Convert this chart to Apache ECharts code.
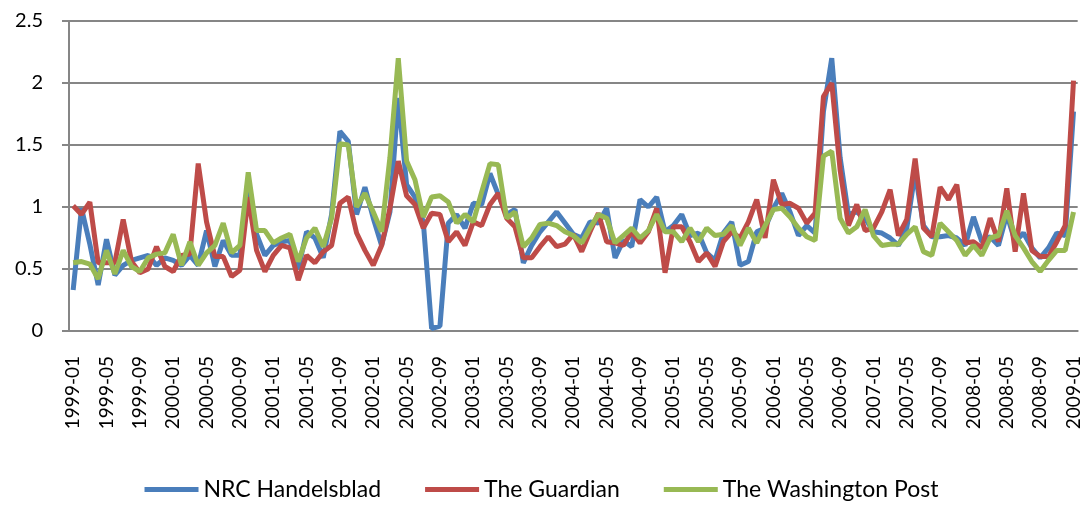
<!DOCTYPE html>
<html>
<head>
<meta charset="utf-8">
<script src="https://cdn.jsdelivr.net/npm/echarts@6/dist/echarts.min.js"></script>
<style>
  html, body { margin: 0; padding: 0; background: #fff; }
  #chart { width: 1083px; height: 506px; }
</style>
</head>
<body>
<div id="chart"></div>
<script>
// monthly categories 1999-01 .. 2009-01
const months = [];
for (let y = 1999; y <= 2009; y++) {
    for (let m = 1; m <= 12; m++) {
        if (y === 2009 && m > 1) break;
        months.push(y + '-' + (m < 10 ? '0' + m : m));
    }
}

const nrc = [
    0.33, 0.99, 0.70, 0.37, 0.74, 0.45, 0.53, 0.57, 0.59, 0.61,
    0.53, 0.59, 0.57, 0.53, 0.61, 0.53, 0.81, 0.52, 0.73, 0.61,
    0.61, 1.23, 0.78, 0.61, 0.69, 0.72, 0.73, 0.50, 0.80, 0.75,
    0.59, 0.94, 1.61, 1.53, 0.94, 1.16, 0.91, 0.69, 0.96, 1.88,
    1.18, 1.08, 0.88, 0.02, 0.04, 0.87, 0.94, 0.83, 1.03, 1.02,
    1.27, 1.10, 0.94, 0.98, 0.55, 0.69, 0.80, 0.88, 0.96, 0.87,
    0.78, 0.75, 0.88, 0.87, 0.99, 0.59, 0.73, 0.68, 1.06, 1.00,
    1.08, 0.80, 0.85, 0.94, 0.77, 0.79, 0.63, 0.57, 0.79, 0.88,
    0.53, 0.56, 0.80, 0.83, 0.99, 1.11, 0.96, 0.77, 0.85, 0.79,
    1.77, 2.20, 1.40, 0.94, 0.96, 0.91, 0.80, 0.79, 0.75, 0.69,
    0.83, 1.28, 0.85, 0.76, 0.76, 0.77, 0.75, 0.69, 0.92, 0.72,
    0.76, 0.69, 0.94, 0.72, 0.79, 0.67, 0.59, 0.67, 0.79, 0.77,
    1.77
];

const guardian = [
    1.01, 0.94, 1.04, 0.55, 0.55, 0.55, 0.90, 0.56, 0.47, 0.50,
    0.68, 0.52, 0.48, 0.61, 0.62, 1.35, 0.88, 0.60, 0.60, 0.44,
    0.49, 1.08, 0.65, 0.48, 0.61, 0.69, 0.67, 0.41, 0.61, 0.55,
    0.64, 0.69, 1.03, 1.08, 0.79, 0.65, 0.53, 0.69, 0.99, 1.37,
    1.09, 1.02, 0.83, 0.95, 0.94, 0.72, 0.80, 0.69, 0.88, 0.85,
    1.02, 1.11, 0.91, 0.84, 0.59, 0.59, 0.68, 0.76, 0.68, 0.70,
    0.78, 0.64, 0.80, 0.95, 0.72, 0.71, 0.69, 0.80, 0.71, 0.80,
    0.99, 0.47, 0.84, 0.84, 0.72, 0.56, 0.63, 0.52, 0.72, 0.80,
    0.75, 0.88, 1.06, 0.75, 1.22, 1.02, 1.03, 0.99, 0.87, 0.95,
    1.89, 2.00, 1.30, 0.85, 1.02, 0.81, 0.83, 0.96, 1.14, 0.77,
    0.90, 1.39, 0.83, 0.76, 1.16, 1.06, 1.18, 0.71, 0.72, 0.67,
    0.91, 0.72, 1.15, 0.64, 1.11, 0.65, 0.60, 0.60, 0.72, 0.85,
    2.02
];

const wapo = [
    0.55, 0.56, 0.54, 0.42, 0.65, 0.46, 0.65, 0.52, 0.48, 0.59,
    0.62, 0.63, 0.78, 0.53, 0.72, 0.53, 0.63, 0.69, 0.87, 0.63,
    0.69, 1.28, 0.81, 0.81, 0.71, 0.75, 0.78, 0.56, 0.75, 0.83,
    0.68, 0.91, 1.51, 1.50, 1.00, 1.11, 0.96, 0.80, 1.40, 2.20,
    1.37, 1.22, 0.92, 1.08, 1.09, 1.04, 0.87, 0.94, 0.88, 1.12,
    1.35, 1.34, 0.91, 0.96, 0.68, 0.75, 0.86, 0.87, 0.85, 0.80,
    0.77, 0.71, 0.83, 0.94, 0.91, 0.71, 0.77, 0.83, 0.75, 0.81,
    0.94, 0.80, 0.80, 0.72, 0.83, 0.72, 0.83, 0.77, 0.78, 0.85,
    0.69, 0.83, 0.71, 0.85, 0.98, 0.99, 0.92, 0.83, 0.76, 0.73,
    1.41, 1.45, 0.91, 0.79, 0.84, 0.98, 0.77, 0.69, 0.70, 0.70,
    0.78, 0.84, 0.64, 0.61, 0.87, 0.80, 0.73, 0.61, 0.69, 0.61,
    0.75, 0.77, 0.97, 0.77, 0.67, 0.56, 0.48, 0.57, 0.65, 0.65,
    0.96
];

const seriesNames = ['NRC Handelsblad', 'The Guardian', 'The Washington Post'];
const colors = ['#4A7EBB', '#BE4B48', '#98B954'];

const chart = echarts.init(document.getElementById('chart'));
const font = 'Lato, "Open Sans", sans-serif';

const option = {
    color: colors,
    animation: false,
    textStyle: { fontFamily: font },
    legend: {
        bottom: 0,
        left: 'center',
        icon: 'rect',
        itemWidth: 54,
        itemHeight: 5,
        itemGap: 44,
        textStyle: { fontSize: 23, color: '#000', fontFamily: font },
        data: seriesNames
    },
    grid: {
        left: 69,
        right: 3,
        top: 21,
        bottom: 175
    },
    xAxis: {
        type: 'category',
        boundaryGap: true,
        data: months,
        axisLine: { lineStyle: { color: '#868686', width: 2 } },
        axisTick: { interval: 0, length: 6, lineStyle: { color: '#868686' } },
        axisLabel: {
            interval: 3,
            rotate: 90,
            margin: 25,
            fontSize: 19,
            color: '#000',
            fontFamily: font
        }
    },
    yAxis: {
        type: 'value',
        min: 0,
        max: 2.5,
        interval: 0.5,
        axisLine: { show: true, lineStyle: { color: '#868686', width: 2 } },
        axisTick: { show: true, length: 7, lineStyle: { color: '#868686', width: 2 } },
        splitLine: { lineStyle: { color: '#868686', width: 2 } },
        axisLabel: { fontSize: 20, color: '#000', margin: 26, fontFamily: font }
    },
    series: [nrc, guardian, wapo].map((vals, k) => ({
        name: seriesNames[k],
        type: 'line',
        data: vals,
        symbol: 'none',
        lineStyle: { width: 5 }
    }))
};

chart.setOption(option);
</script>
</body>
</html>
